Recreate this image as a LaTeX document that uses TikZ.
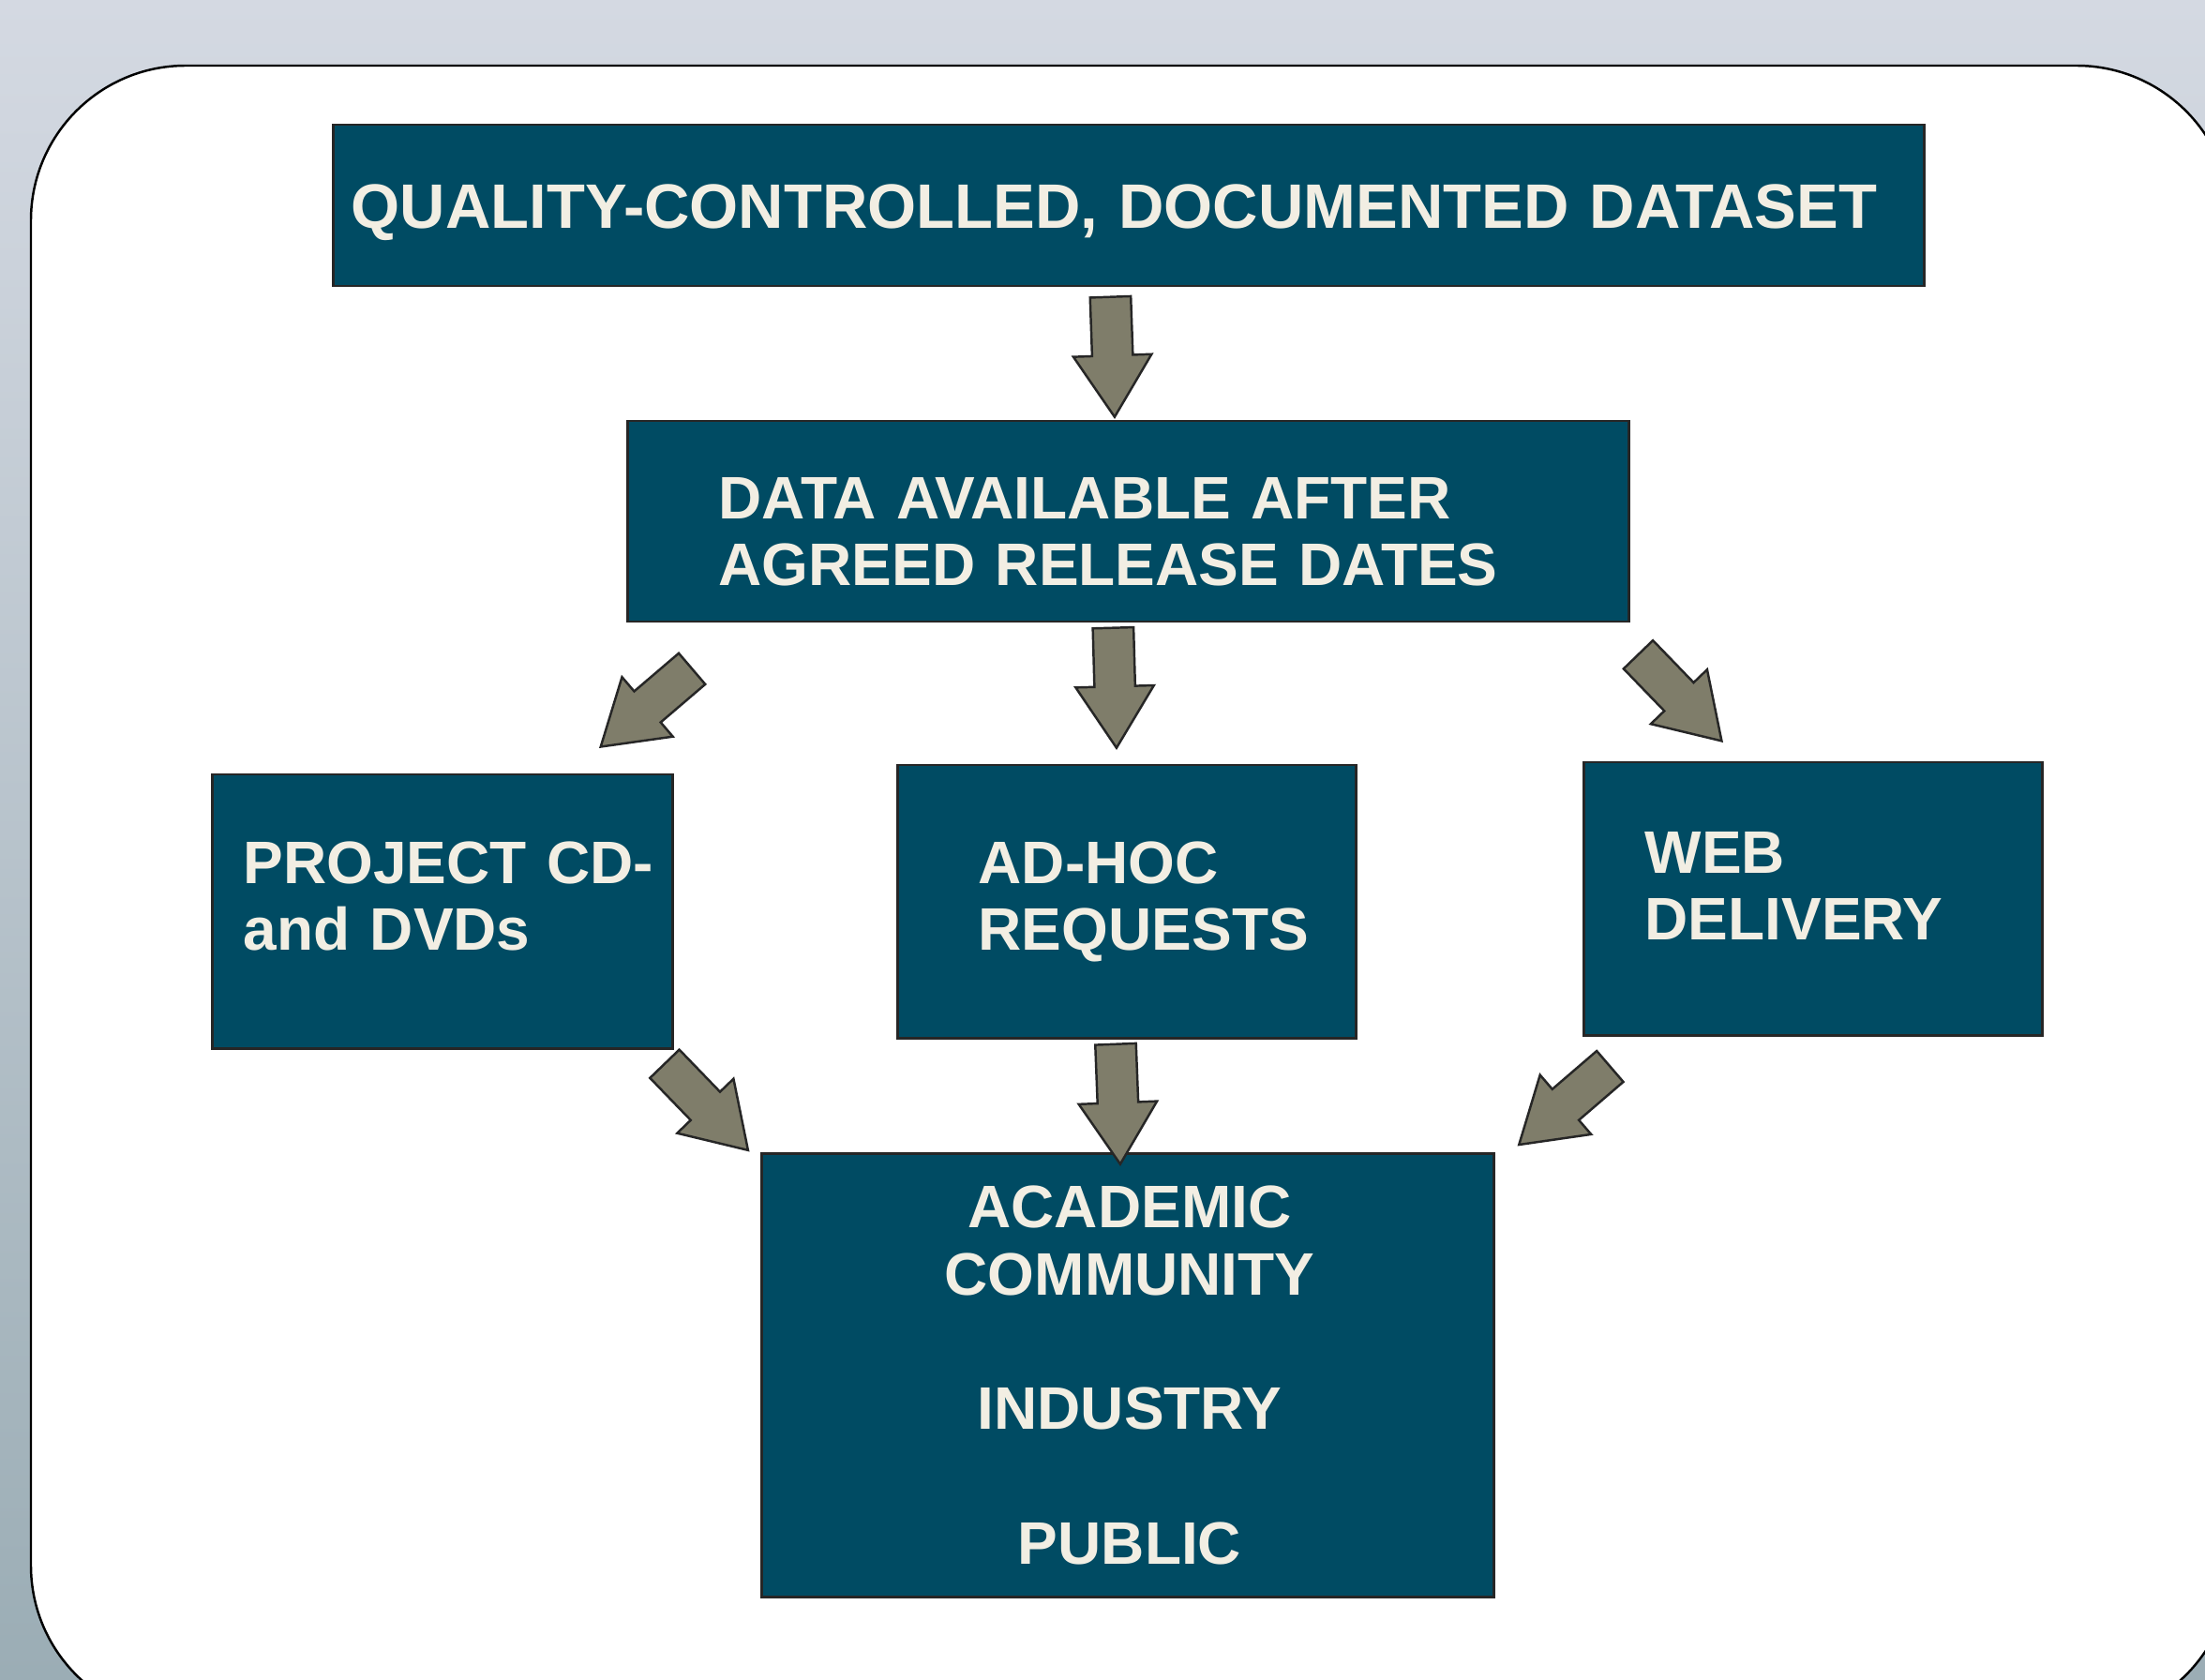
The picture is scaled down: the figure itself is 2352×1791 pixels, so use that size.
\documentclass[tikz,border=0pt]{standalone}
\usepackage{fontspec}
\setmainfont{Liberation Sans}
\usetikzlibrary{shapes.arrows}
\definecolor{boxblue}{RGB}{0,75,99}
\definecolor{boxcream}{RGB}{242,238,227}
\definecolor{arrowgray}{RGB}{127,125,106}
\definecolor{bgtop}{RGB}{212,217,226}
\definecolor{bgmid}{RGB}{192,202,210}
\definecolor{bgbot}{RGB}{155,173,181}
\tikzset
{
    databox/.style  = {rectangle, draw=black!85, line width=0.8pt, fill=boxblue, inner sep=0pt},
    boxlabel/.style = {text=boxcream, inner sep=0pt, anchor=base west, align=left, text width=9cm, font=\bfseries\fontsize{18.2}{20.4}\selectfont},
    bigarrow/.style = {single arrow, draw=black!85, line width=0.7pt, fill=arrowgray, minimum height=1.28cm, inner xsep=0pt, inner ysep=0.205cm, single arrow head extend=0.2cm, single arrow tip angle=65, anchor=tip}
}

\begin{document}
\begin{tikzpicture}[x=0.01cm, y=-0.01cm]
\path[use as bounding box, clip] (0,0) rectangle (2352,1791);
\shade[top color=bgtop, middle color=bgmid, bottom color=bgbot] (0,0) rectangle (2352,1791);
\draw[fill=white, line width=0.7pt, rounded corners=1.65cm] (33,70) rectangle (2380,1835);

\node[databox, minimum width=16.96cm, minimum height=1.72cm] (dataset) at (1204,219) {};
\node[databox, minimum width=10.67cm, minimum height=2.14cm] (release) at (1203.5,556) {};
\node[databox, minimum width=4.90cm, minimum height=2.92cm] (media) at (472,972) {};
\node[databox, minimum width=4.88cm, minimum height=2.91cm] (adhoc) at (1202,961.5) {};
\node[databox, minimum width=4.88cm, minimum height=2.91cm] (web) at (1934,958.5) {};
\node[databox, minimum width=7.80cm, minimum height=4.72cm] (users) at (1203,1467) {};

\node[boxlabel, text width=17cm, font=\bfseries\fontsize{19.05}{21}\selectfont] (dataset-text) at (374,243) {QUALITY-CONTROLLED, DOCUMENTED DATASET};
\node[boxlabel] (release-text) at (766,553) {DATA AVAILABLE AFTER\\AGREED RELEASE DATES};
\node[boxlabel] (media-text) at (259,942) {PROJECT CD-\\and DVDs};
\node[boxlabel] (adhoc-text) at (1043,942) {AD-HOC\\REQUESTS};
\node[boxlabel] (web-text) at (1754,931) {WEB\\DELIVERY};
\node[boxlabel, anchor=base, align=center, text width=6cm] (users-text) at (1205,1309.5) {ACADEMIC\\COMMUNITY\\[20.4pt]INDUSTRY\\[20.4pt]PUBLIC};

\node[bigarrow, rotate=-88] (to-release) at (1189,447) {};
\node[bigarrow, rotate=-88.4] (to-adhoc) at (1191,800) {};
\node[bigarrow, rotate=220.5] (to-media) at (639,798) {};
\node[bigarrow, rotate=-46] (to-web) at (1838,792) {};
\node[bigarrow, rotate=-46] (media-out) at (799.5,1228.5) {};
\node[bigarrow, rotate=-87.8] (adhoc-out) at (1195,1244) {};
\node[bigarrow, rotate=220.7] (web-out) at (1618.5,1222.5) {};
\end{tikzpicture}
\end{document}
